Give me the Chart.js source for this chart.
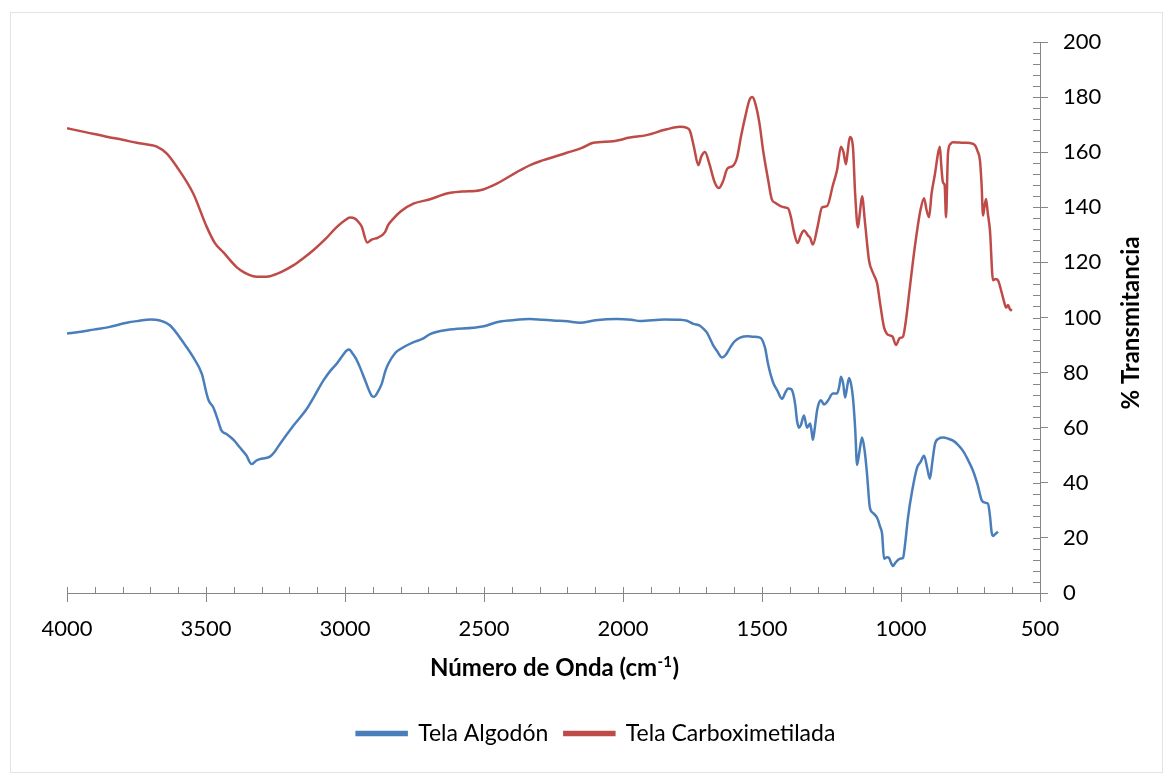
<!DOCTYPE html>
<html>
<head>
<meta charset="utf-8">
<script src="https://cdn.jsdelivr.net/npm/chart.js@4.4.1/dist/chart.umd.min.js"></script>
<style>
  html, body { margin: 0; padding: 0; background: #ffffff; }
  #wrap { width: 1165px; height: 774px; position: relative; }
</style>
</head>
<body>
<div id="wrap"><canvas id="c" width="1165" height="774"></canvas></div>
<script>
// ---- Data ----
const seriesNames = ["Tela Algodón", "Tela Carboximetilada"];

const algodonWave = [4000,3950,3905,3850,3785,3740,3701,3665,3629,3582,3546,3515,3497,3490,3474,3458,3444,3426,3400,3378,3355,3336,3320,3306,3285,3270,3255,3234,3186,3138,3110,3078,3050,3030,3010,2994,2985,2976,2960,2946,2925,2904,2895,2886,2868,2855,2844,2820,2802,2755,2720,2694,2634,2539,2500,2454,2400,2334,2290,2251,2200,2155,2100,2023,1970,1939,1850,1795,1770,1747,1723,1705,1698,1676,1663,1644,1630,1615,1600,1579,1550,1532,1507,1489,1478,1460,1445,1428,1415,1406,1395,1388,1380,1374,1367,1360,1349,1338,1327,1322,1317,1310,1302,1295,1288,1277,1263,1245,1230,1222,1216,1208,1201,1195,1187,1180,1173,1165,1158,1150,1140,1130,1122,1112,1100,1086,1075,1068,1061,1050,1043,1036,1029,1020,1011,1000,993,985,975,960,942,930,917,905,896,888,878,865,849,830,813,795,777,760,741,725,709,698,687,680,674,669,660,651];
const algodonT = [94.2,94.8,95.6,96.5,98.1,98.8,99.3,98.9,97.1,91,85.6,79.5,72,69.8,67.4,63,58.9,57.7,55.5,52.8,50,46.8,48,48.6,49,49.5,51,54.1,60.7,66.8,71.5,77.1,81,83.2,86,88,88.4,87.4,85,81.9,76.5,71.6,71.2,72.3,75.9,80.5,83.2,87,88.5,91,92.3,94,95.5,96.3,96.8,98.3,99,99.5,99.2,98.9,98.6,98.1,99,99.5,99.2,98.7,99.3,99.2,98.8,97.7,97,95.3,94.5,90,88,85.5,86.5,89,91.2,92.7,93.2,93,92.7,89,83,76.4,73.5,70.5,73,74.2,74,72.4,68,62.5,60,61,64.4,60,61.5,59,55.6,60,66.2,69,70,68.4,69.8,72.4,72.4,75,78.5,76,71,74,78,76,71,60,46.5,51,56.4,51,43,31,29,27.3,24,21.5,12.4,13,12.7,11,9.8,11,12,12.5,12.7,18,27.3,37,45.5,47.5,49.8,45,41.5,47,54,56,56.4,56,55.3,53.8,51.6,48.5,44.4,39.5,33.5,32.8,32.4,28,22,20.7,21.5,22.2];

const carboxWave = [4000,3930,3857,3800,3749,3700,3677,3641,3605,3546,3497,3468,3438,3390,3360,3330,3300,3270,3230,3186,3150,3114,3070,3030,3000,2982,2964,2950,2940,2920,2904,2881,2856,2845,2826,2800,2754,2694,2634,2580,2514,2454,2382,2330,2286,2202,2150,2107,2035,1975,1915,1843,1795,1770,1759,1745,1729,1718,1705,1690,1670,1655,1640,1625,1605,1590,1575,1560,1545,1535,1525,1510,1495,1478,1465,1450,1420,1406,1395,1385,1372,1360,1349,1335,1327,1317,1300,1284,1266,1245,1230,1216,1207,1198,1192,1184,1173,1165,1155,1148,1140,1130,1115,1100,1086,1075,1061,1050,1040,1030,1018,1005,993,985,968,955,942,930,917,908,899,890,878,866,860,855,849,843,838,831,822,813,790,770,752,734,725,716,710,705,700,694,688,680,669,660,651,637,630,622,615,608,601];
const carboxT = [168.7,167.2,165.6,164.5,163.4,162.6,162,159.5,154.7,145,132.8,127,123.7,118.3,116.2,115,114.8,115,116.5,118.9,121.5,124.4,128.5,132.8,135.3,136.3,135.9,134.5,133,127.2,128.3,129,131,133.5,135.9,138.5,141.3,142.9,145,145.7,146.2,148.6,152.8,155.5,157.1,159.8,161.5,163.4,164,165.3,166.2,168.3,169.2,168.8,167.7,162,155.3,158.5,160.1,156,149,147,149.5,154,155,158,166,173,179,180,178,171,160,150,143,141.5,140,139.6,136,131,127,130,131.6,129.8,129,126.5,133,140,140.4,148,153.5,162,160,155.6,160,165.5,162,145,132.7,138,144,135,120.7,116,112.4,105,96.4,94,93.5,93,90,92.5,93,97,111,122,131.6,139,143.3,139,136.4,145,152,160,162,155,149,148,136.4,159.6,163,163.6,163.5,163.4,163.3,162.5,160.5,157,148,137,140,143,138,131.6,113.5,114,113.5,108.7,106,103.6,104.5,103,102.5];

const xTickStep = 500, xMinorStep = 100, xMin = 500, xMax = 4000;
const yTickStep = 20, yMinorStep = 4, yMin = 0, yMax = 200;
const xTitleMain = "Número de Onda (cm";
const xTitleSup = "-1";
const xTitleEnd = ")";
const yTitle = "% Transmitancia";

// ---- Styles ----
const BLUE = "#4a7ebb";
const RED = "#be4b48";
const AXIS = "#868686";
const FONT = "Lato, 'Open Sans', 'Liberation Sans', sans-serif";

function toPoints(w, t) { return w.map((v, i) => ({ x: v, y: t[i] })); }

const extras = {
  id: "extras",
  beforeDraw(chart) {
    const ctx = chart.ctx;
    ctx.save();
    ctx.fillStyle = "#ffffff";
    ctx.fillRect(0, 0, chart.width, chart.height);
    ctx.strokeStyle = "#e3e3e3";
    ctx.lineWidth = 1;
    ctx.strokeRect(10.5, 12.5, 1152, 760);
    ctx.restore();
  },
  afterDraw(chart) {
    const { ctx, chartArea: a, scales: { x, y } } = chart;
    ctx.save();
    ctx.strokeStyle = AXIS;
    ctx.lineWidth = 1;
    ctx.beginPath();
    for (let v = xMin; v <= xMax; v += xMinorStep) {
      const px = Math.round(x.getPixelForValue(v)) + 0.5;
      ctx.moveTo(px, a.bottom - 6);
      ctx.lineTo(px, a.bottom);
    }
    for (let v = yMin; v <= yMax; v += yMinorStep) {
      const py = Math.round(y.getPixelForValue(v)) + 0.5;
      ctx.moveTo(a.right - 7, py);
      ctx.lineTo(a.right, py);
    }
    ctx.stroke();

    // x axis title with superscript
    ctx.fillStyle = "#000000";
    ctx.textBaseline = "alphabetic";
    const big = "bold 24px " + FONT;
    const small = "bold 15px " + FONT;
    ctx.font = big;
    const w1 = ctx.measureText(xTitleMain).width;
    const w3 = ctx.measureText(xTitleEnd).width;
    ctx.font = small;
    const w2 = ctx.measureText(xTitleSup).width;
    const total = w1 + w2 + w3;
    const cx = 554;
    let sx = cx - total / 2;
    const base = 676;
    ctx.font = big;
    ctx.textAlign = "left";
    ctx.fillText(xTitleMain, sx, base);
    ctx.font = small;
    ctx.fillText(xTitleSup, sx + w1 + 0.5, base - 9);
    ctx.font = big;
    ctx.fillText(xTitleEnd, sx + w1 + w2 + 1, base);

    // y axis title rotated
    ctx.save();
    ctx.translate(1131, 323);
    ctx.rotate(-Math.PI / 2);
    ctx.font = big;
    ctx.textAlign = "center";
    ctx.textBaseline = "middle";
    ctx.fillText(yTitle, 0, 0);
    ctx.restore();
    ctx.restore();
  }
};

new Chart(document.getElementById("c"), {
  type: "line",
  data: {
    datasets: [
      { label: seriesNames[0], data: toPoints(algodonWave, algodonT), borderColor: BLUE, backgroundColor: BLUE, borderWidth: 2.5, pointRadius: 0, cubicInterpolationMode: "monotone", fill: false },
      { label: seriesNames[1], data: toPoints(carboxWave, carboxT), borderColor: RED, backgroundColor: RED, borderWidth: 2.5, pointRadius: 0, cubicInterpolationMode: "monotone", fill: false }
    ]
  },
  options: {
    responsive: false,
    animation: false,
    layout: { padding: { left: 27, top: 42, right: 0, bottom: 19 } },
    plugins: {
      tooltip: { enabled: false },
      legend: {
        position: "bottom",
        labels: { boxWidth: 50, boxHeight: 3, padding: 16, color: "#000000", font: { family: FONT, size: 23 } }
      }
    },
    scales: {
      x: {
        type: "linear",
        reverse: true,
        min: xMin, max: xMax,
        afterFit(s) { s.height = 113; },
        ticks: { stepSize: xTickStep, autoSkip: false, maxRotation: 0, padding: 14, color: "#000000", font: { family: FONT, size: 22 }, callback: (v) => String(v) },
        grid: { display: true, drawOnChartArea: false, drawTicks: true, tickLength: 9, color: AXIS },
        border: { display: true, color: AXIS, width: 1 }
      },
      y: {
        position: "right",
        min: yMin, max: yMax,
        afterFit(s) { s.width = 125; },
        ticks: { stepSize: yTickStep, padding: 15, color: "#000000", font: { family: FONT, size: 22 }, callback: (v) => String(v) },
        grid: { display: true, drawOnChartArea: false, drawTicks: true, tickLength: 8, color: AXIS },
        border: { display: true, color: AXIS, width: 1 }
      },
      spacer: {
        type: "linear",
        position: "left",
        display: true,
        afterFit(s) { s.width = 40; },
        ticks: { display: false },
        grid: { display: false, drawTicks: false },
        border: { display: false }
      }
    }
  },
  plugins: [extras]
});
</script>
</body>
</html>
